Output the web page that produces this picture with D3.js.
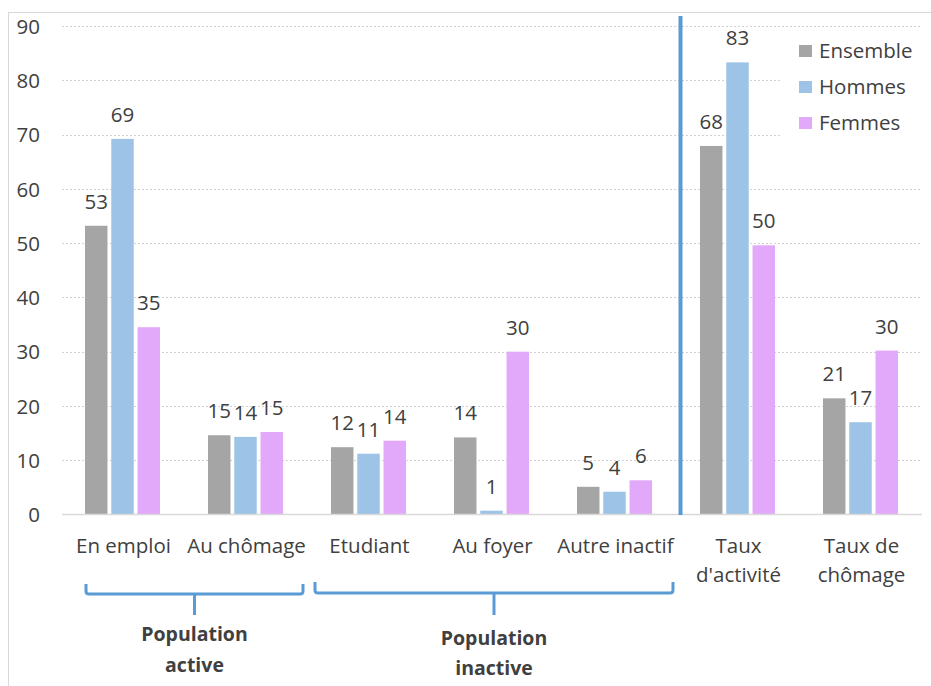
<!DOCTYPE html>
<html><head><meta charset="utf-8">
<script src="https://cdn.jsdelivr.net/npm/d3@7"></script>
<style>
body{margin:0;background:#fff;}
text{font-family:"Open Sans","Noto Sans",sans-serif;fill:#404040;}
</style></head>
<body><svg id="c" width="931" height="686"></svg>
<script>
const categories = ["En emploi","Au chômage","Etudiant","Au foyer","Autre inactif","Taux d'activité","Taux de chômage"];
const categoryLines = [["En emploi"],["Au chômage"],["Etudiant"],["Au foyer"],["Autre inactif"],["Taux","d'activité"],["Taux de","chômage"]];
const series = ["Ensemble","Hommes","Femmes"];
const ensemble = [53.2,14.6,12.4,14.2,5.1,67.9,21.4];
const hommes   = [69.2,14.3,11.2,0.7,4.2,83.3,17.0];
const femmes   = [34.5,15.2,13.6,30.0,6.3,49.6,30.2];
const yTicks = [0,10,20,30,40,50,60,70,80,90];
const groups = [
  {label:["Population","active"], from:"En emploi", to:"Au chômage"},
  {label:["Population","inactive"], from:"Etudiant", to:"Autre inactif"}
];
const colors = ["#A5A5A5","#9DC3E6","#E2A9FA"];
const values = [ensemble, hommes, femmes];

const svg = d3.select("#c");
const fs = 20.5;

svg.append("rect").attr("x",8.5).attr("y",12.5).attr("width",940).attr("height",700)
  .attr("fill","#fff").attr("stroke","#D9D9D9").attr("stroke-width",1);

const x0 = d3.scaleBand().domain(categories).range([62,923]);
const x1 = d3.scaleBand().domain(series).range([23,98]).paddingInner(0.145);
const y = d3.scaleLinear().domain([0,90]).range([514.5,26]);

// gridlines
svg.append("g").selectAll("line").data(yTicks.filter(t=>t>0)).join("line")
  .attr("x1",62).attr("x2",922).attr("y1",d=>Math.round(y(d))+0.5).attr("y2",d=>Math.round(y(d))+0.5)
  .attr("stroke","#D0D0D0").attr("stroke-width",1).attr("stroke-dasharray","2,2");

// y axis labels
const yAxis = d3.axisLeft(y).tickValues(yTicks).tickSize(0).tickPadding(0);
const ga = svg.append("g").attr("transform","translate(40,0)").call(yAxis);
ga.select(".domain").remove();
ga.selectAll("text").attr("font-size",fs).attr("font-family",null).attr("fill","#404040").attr("dy","0.35em");

// legend background (covers gridlines)
svg.append("rect").attr("x",782).attr("y",34).attr("width",145).attr("height",114).attr("fill","#fff");

// bars
const gBars = svg.append("g");
series.forEach((s,si)=>{
  gBars.selectAll(null).data(categories).join("rect")
    .attr("x",c=>x0(c)+x1(s)).attr("width",x1.bandwidth())
    .attr("y",(c,i)=>y(values[si][i])).attr("height",(c,i)=>y(0)-y(values[si][i]))
    .attr("fill",colors[si]);
  gBars.selectAll(null).data(categories).join("text")
    .attr("x",c=>x0(c)+x1(s)+x1.bandwidth()/2)
    .attr("y",(c,i)=>y(values[si][i])-17)
    .attr("text-anchor","middle").attr("font-size",fs)
    .text((c,i)=>Math.round(values[si][i]));
});

// baseline
svg.append("line").attr("x1",62).attr("x2",922).attr("y1",514.5).attr("y2",514.5)
  .attr("stroke","#D9D9D9").attr("stroke-width",1.5);

// separator line
const sepX = x0("Taux d'activité") + 3.5;
svg.append("line").attr("x1",sepX).attr("x2",sepX).attr("y1",16).attr("y2",515)
  .attr("stroke","#5B9BD5").attr("stroke-width",4);

// x labels
const gx = svg.append("g");
categories.forEach((c,i)=>{
  const t = gx.append("text").attr("x",x0(c)+x0.bandwidth()/2).attr("y",553)
    .attr("text-anchor","middle").attr("font-size",fs);
  categoryLines[i].forEach((ln,j)=>{
    t.append("tspan").attr("x",x0(c)+x0.bandwidth()/2).attr("dy",j===0?0:29).text(ln);
  });
});

// brackets
const bw = x0.bandwidth();
const brackets = [
  {l:x0(groups[0].from)+24, r:x0(groups[0].to)+bw-5, top:584, h:594, ty:[641,672]},
  {l:x0(groups[1].from)+7, r:x0(groups[1].to)+bw-4, top:582, h:593, ty:[645,675]}
];
brackets.forEach((b,i)=>{
  const m=(b.l+b.r)/2;
  svg.append("path")
    .attr("d",`M${b.l},${b.top} L${b.l},${b.h-3} Q${b.l},${b.h} ${b.l+3},${b.h} L${b.r-3},${b.h} Q${b.r},${b.h} ${b.r},${b.h-3} L${b.r},${b.top}`)
    .attr("fill","none").attr("stroke","#5B9BD5").attr("stroke-width",3);
  svg.append("line").attr("x1",m).attr("x2",m).attr("y1",b.h).attr("y2",615)
    .attr("stroke","#5B9BD5").attr("stroke-width",3);
  groups[i].label.forEach((ln,j)=>{
    svg.append("text").attr("x",m).attr("y",b.ty[j]).attr("text-anchor","middle")
      .attr("font-size",19.5).attr("font-weight","bold").text(ln);
  });
});

// legend
series.forEach((s,i)=>{
  const cy = 51 + i*36;
  svg.append("rect").attr("x",799).attr("y",cy-6).attr("width",13).attr("height",12).attr("fill",colors[i]);
  svg.append("text").attr("x",819).attr("y",cy).attr("dy","0.35em").attr("font-size",fs).text(s);
});
</script></body></html>
